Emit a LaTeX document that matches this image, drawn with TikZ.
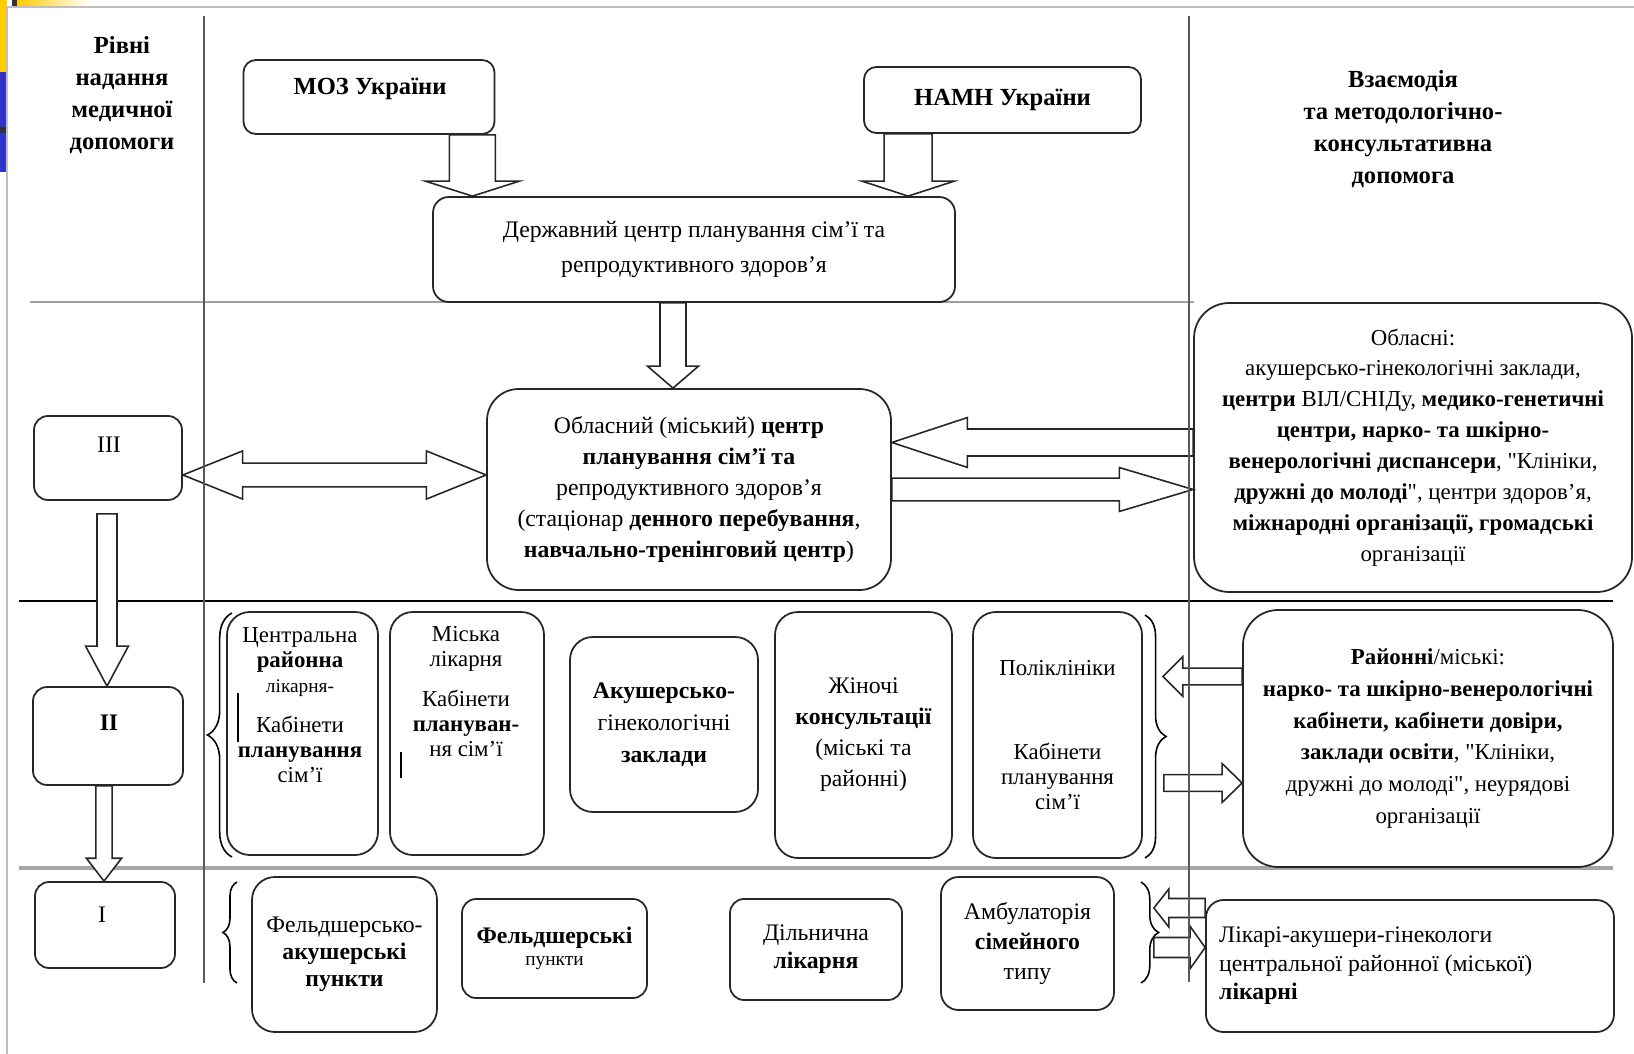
\documentclass[tikz,border=0pt]{standalone}
\usepackage{fontspec}
\setmainfont{Liberation Serif}
\newfontfamily\straightfont{Liberation Serif}
\newcommand{\qt}{{\straightfont"}}
\usetikzlibrary{calc,decorations.pathreplacing}
\definecolor{slideyellow}{RGB}{255,204,0}
\definecolor{slideblue}{RGB}{51,51,204}
\newdimen\pxu \pxu=0.02cm
% block arrow: from, to, shaft half width, head half width, head length (pt)
\newcommand{\blockarr}[5]{%
  \draw[blockstyle] let \p1=(#1), \p2=(#2),
      \n1={veclen(\x2-\x1,\y2-\y1)}, \n2={(\x2-\x1)/\n1},
      \n3={(\y2-\y1)/\n1}, \n4={\n1-#5} in
    ({\x1-\n3*#3},{\y1+\n2*#3})
    -- ({\x1+\n2*\n4-\n3*#3},{\y1+\n3*\n4+\n2*#3})
    -- ({\x1+\n2*\n4-\n3*#4},{\y1+\n3*\n4+\n2*#4})
    -- (\p2)
    -- ({\x1+\n2*\n4+\n3*#4},{\y1+\n3*\n4-\n2*#4})
    -- ({\x1+\n2*\n4+\n3*#3},{\y1+\n3*\n4-\n2*#3})
    -- ({\x1+\n3*#3},{\y1-\n2*#3}) -- cycle;}
\newcommand{\blockdarr}[5]{%
  \draw[blockstyle] let \p1=(#1), \p2=(#2),
      \n1={veclen(\x2-\x1,\y2-\y1)}, \n2={(\x2-\x1)/\n1},
      \n3={(\y2-\y1)/\n1}, \n4={\n1-#5} in
    (\p1)
    -- ({\x1+\n2*#5-\n3*#4},{\y1+\n3*#5+\n2*#4})
    -- ({\x1+\n2*#5-\n3*#3},{\y1+\n3*#5+\n2*#3})
    -- ({\x1+\n2*\n4-\n3*#3},{\y1+\n3*\n4+\n2*#3})
    -- ({\x1+\n2*\n4-\n3*#4},{\y1+\n3*\n4+\n2*#4})
    -- (\p2)
    -- ({\x1+\n2*\n4+\n3*#4},{\y1+\n3*\n4-\n2*#4})
    -- ({\x1+\n2*\n4+\n3*#3},{\y1+\n3*\n4-\n2*#3})
    -- ({\x1+\n2*#5+\n3*#3},{\y1+\n3*#5-\n2*#3})
    -- ({\x1+\n2*#5+\n3*#4},{\y1+\n3*#5-\n2*#4}) -- cycle;}
\tikzset{
  box/.style={draw=black!85, line width=1pt, fill=white, rounded corners=#1,
    inner sep=0pt, align=center},
  box/.default=7pt,
  sz/.style 2 args={minimum width=#1\pxu, minimum height=#2\pxu},
  txt/.style={align=center, font=\fontsize{13.5}{17.6}\selectfont},
  headtxt/.style={align=center, font=\bfseries\fontsize{14}{18.2}\selectfont},
  blockstyle/.style={draw=black!85, line width=0.9pt, fill=white, sharp corners,
    line join=miter},
  brc/.style={decorate, decoration={brace, amplitude=#1}, line width=0.9pt},
}

\begin{document}
\begin{tikzpicture}[x=0.02cm, y=-0.02cm]
\useasboundingbox (0,0) rectangle (1634,1054);
% slide frame
\fill[slideyellow] (0,0) rectangle (7,72);
\fill[slideblue] (0,72) rectangle (7,172);
\shade[left color=slideyellow, right color=white] (17,0) rectangle (90,7);
\fill[black!80] (12,0) rectangle (17,7);
\fill[black!80] (0,127) rectangle (7,133);
\draw[gray!50, line width=0.6pt] (7,1054) -- (7,7) -- (1634,7);
%
\draw[gray!75, line width=1.5pt] (30,302) -- (1194,302);
\draw[black, line width=1.6pt] (19,601) -- (1613,601);
\draw[gray!70, line width=2pt] (19,868) -- (1613,868);
%
\node[headtxt] (levels) at (122,95) {Рівні\\надання\\медичної\\допомоги};
\node[headtxt] (interact) at (1403,129.5) {Взаємодія\\та методологічно-\\консультативна\\допомога};
%
\node[box, sz={251}{74}] (moz) at (369,97) {};
\node[txt, font=\bfseries\fontsize{14}{18}\selectfont] (moztxt) at (370,89) {МОЗ України};
\node[box, sz={277}{66}, font=\bfseries\fontsize{14}{18}\selectfont] (namn) at (1002.5,100) {НАМН України};
\node[box=9pt, sz={522}{105}, txt, font=\fontsize{13.5}{20}\selectfont] (derzh) at (694,249.5)
  {Державний центр планування сім'ї та\\репродуктивного здоров'я};
%
\node[box=18pt, sz={404}{201}, txt] (obl) at (689,489.5)
  {Обласний (міський) \textbf{центр}\\ \textbf{планування сім'ї та}\\ репродуктивного здоров'я\\
   (стаціонар \textbf{денного перебування},\\ \textbf{навчально-тренінговий центр})};
\node[box=20pt, sz={438}{289}, txt, font=\fontsize{13}{17.6}\selectfont] (oblr) at (1413,447.5)
  {Обласні:\\ акушерсько-гінекологічні заклади,\\ \textbf{центри} ВІЛ/СНІДу, \textbf{медико-генетичні}\\
   \textbf{центри, нарко- та шкірно-}\\ \textbf{венерологічні диспансери}, \qt Клініки,\\
   \textbf{дружні до молоді}\qt, центри здоров'я,\\ \textbf{міжнародні організації, громадські}\\ організації};
%
\node[box=8pt, sz={148}{84}] (lvl3) at (108,458) {};
\node[txt] (lvl3txt) at (109,445) {III};
\node[box=8pt, sz={150}{98}] (lvl2) at (108,736) {};
\node[txt, font=\bfseries\fontsize{13.5}{17.6}\selectfont] (lvl2txt) at (109,723) {II};
\node[box=8pt, sz={140}{86}] (lvl1) at (105,925) {};
\node[txt] (lvl1txt) at (102,915) {I};
%
\node[box=13pt, sz={151}{243}] (crl) at (302.5,733.5) {};
\node[txt, font=\fontsize{13}{14.2}\selectfont] (crltxt) at (300,705)
  {Центральна\\ \textbf{районна}\\ {\fontsize{11}{14.2}\selectfont лікарня-}\\[8.6pt] Кабінети\\ \textbf{планування}\\ сім'ї};
\node[box=13pt, sz={154}{243}] (misk) at (467,733.5) {};
\node[txt, font=\fontsize{13}{14.2}\selectfont] (misktxt) at (466,691.5)
  {Міська\\ лікарня\\[8.6pt] Кабінети\\ \textbf{плануван-}\\ ня сім'ї};
\node[box=13pt, sz={188}{175}, txt, font=\fontsize{13.5}{18.2}\selectfont] (akush) at (664,724.5)
  {\textbf{Акушерсько-}\\ гінекологічні\\ \textbf{заклади}};
\node[box=13pt, sz={177}{246}, txt] (zhin) at (863.5,735)
  {Жіночі\\ \textbf{консультації}\\ (міські та\\ районні)};
\node[box=13pt, sz={169}{246}, txt, font=\fontsize{13}{14.2}\selectfont] (polikl) at (1057.5,735)
  {Поліклініки\\[34pt] Кабінети\\ планування\\ сім'ї};
\node[box=20pt, sz={370}{257}, txt, font=\fontsize{13}{18.2}\selectfont] (rayon) at (1428,738.5)
  {\textbf{Районні}/міські:\\ \textbf{нарко- та шкірно-венерологічні}\\ \textbf{кабінети, кабінети довіри,}\\
   \textbf{заклади освіти}, \qt Клініки,\\ дружні до молоді\qt, неурядові\\ організації};
%
\node[box=13pt, sz={185}{155}, txt, font=\fontsize{13.5}{15.5}\selectfont] (fap) at (344.5,954.5)
  {Фельдшерсько-\\ \textbf{акушерські}\\ \textbf{пункти}};
\node[box=8pt, sz={185}{99}, txt, font=\fontsize{13.5}{12.5}\selectfont] (fp) at (554.5,948.5)
  {\textbf{Фельдшерські}\\ {\fontsize{11}{12.5}\selectfont пункти}};
\node[box=8pt, sz={172}{101}, txt, font=\fontsize{13.5}{16}\selectfont] (diln) at (816,949.5)
  {Дільнична\\ \textbf{лікарня}};
\node[box=10pt, sz={173}{133}, txt, font=\fontsize{13.5}{17}\selectfont] (ambul) at (1027.5,943.5)
  {Амбулаторія\\ \textbf{сімейного}\\ типу};
\node[box=10pt, sz={408}{132}] (likari) at (1410,966) {};
\node[txt, align=left, anchor=west, font=\fontsize{13.5}{16.2}\selectfont] (likaritxt) at (1213,966)
  {Лікарі-акушери-гінекологи\\ центральної районної (міської)\\ \textbf{лікарні}};
%
\draw[line width=1.3pt] (238,693) -- (238,742);
\draw[line width=1.1pt] (401,752) -- (401,778);
%
\draw[brc=14pt] (232,857) -- (232,613);
\draw[brc=12pt] (1145,615) -- (1145,858);
\draw[brc=8pt] (237,983) -- (237,882);
\draw[brc=10pt] (1141,882) -- (1141,983);
%%%%%%%%%%%%%%%%%%%%%%%%%%%%%%%
\coordinate (mozA) at ($(moz.south east)+(-23,0)$);
\coordinate (mozB) at (mozA |- derzh.north);
\coordinate (namnA) at ($(namn.south west)+(45,0)$);
\coordinate (namnB) at (namnA |- derzh.north);
\coordinate (derzhA) at ($(derzh.south)+(-21,0)$);
\coordinate (derzhB) at (derzhA |- obl.north);
\coordinate (l3A) at ($(lvl3.east)+(0,17)$);
\coordinate (l3B) at (l3A -| obl.west);
\coordinate (oblrA) at ($(oblr.west)+(0,-5)$);
\coordinate (oblrB) at (oblrA -| obl.east);
\coordinate (oblA) at (obl.east);
\coordinate (oblB) at (oblA -| oblr.west);
\coordinate (l3C) at ($(lvl3.south)+(-1,13)$);
\coordinate (l3D) at (l3C |- lvl2.north);
\coordinate (l2A) at ($(lvl2.south)+(-4,0)$);
\coordinate (l2B) at (l2A |- lvl1.north);
\coordinate (rayA) at ($(rayon.west)+(0,-62)$);
\coordinate (rayB) at ($(rayA -| polikl.east)+(20,0)$);
\coordinate (rayC) at ($(polikl.east)+(21,48)$);
\coordinate (rayD) at (rayC -| rayon.west);
\coordinate (likA) at ($(likari.west)+(0,-58)$);
\coordinate (likB) at ($(likA -| ambul.east)+(39,0)$);
\coordinate (likC) at ($(ambul.east)+(39,4)$);
\coordinate (likD) at (likC -| likari.west);
%
\blockarr{mozA}{mozB}{13.1}{26.7}{8.5}
\blockarr{namnA}{namnB}{13.7}{26.2}{8.5}
\blockarr{derzhA}{derzhB}{7.4}{14.5}{12.5}
\blockdarr{l3A}{l3B}{6.8}{13.7}{34}
\blockarr{oblrA}{oblrB}{7.7}{14.2}{43}
\blockarr{oblA}{oblB}{6.5}{12.5}{42}
\blockarr{l3C}{l3D}{5.7}{12.2}{22.8}
\blockarr{l2A}{l2B}{4.6}{10}{13}
\blockarr{rayA}{rayB}{4.8}{11.4}{11.4}
\blockarr{rayC}{rayD}{4.8}{11.1}{11.4}
\blockarr{likA}{likB}{5.4}{10.8}{8.5}
\blockarr{likC}{likD}{5.7}{12}{8.5}
%
\draw[gray!70!black, line width=1.4pt] (204,16) -- (204,983);
\draw[gray!70!black, line width=1.4pt] (1189,16) -- (1189,982);
\end{tikzpicture}
\end{document}
